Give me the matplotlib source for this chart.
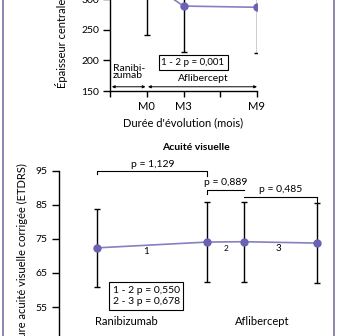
import matplotlib
matplotlib.use("Agg")
import matplotlib.pyplot as plt
from matplotlib.lines import Line2D

plt.rcParams["font.family"] = ["Lato", "DejaVu Sans"]
plt.rcParams["font.size"] = 7

# ── data ──────────────────────────────────────────────────────────────────────
# top panel: central thickness
thk_months = [0, 3, 9]
thk_mean   = [330, 289, 287]
thk_sd     = [88, 75, 75]
thk_ticks  = [-3, 0, 3, 6, 9]
thk_labels = ["", "M0", "M3", "", "M9"]
thk_yticks = [150, 200, 250, 300, 350]

# bottom panel: visual acuity
va_x     = [-9, 0, 3, 9]
va_mean  = [72.4, 74.1, 74.2, 73.8]
va_sd    = [11.4, 11.8, 11.8, 11.7]
va_ticks = [55, 65, 75, 85, 95]

PURPLE = "#6a62b2"
LINE   = "#8580c0"
FRAME  = "#7e6f9e"

fig = plt.figure(figsize=(3.39, 3.36), dpi=100)

# ── top panel ─────────────────────────────────────────────────────────────────
ax1 = fig.add_axes([0.3245, 0.729, 0.4336, 0.455])
ax1.plot(thk_months, thk_mean, color=LINE, lw=1.2, zorder=2)
ax1.errorbar(thk_months, thk_mean, yerr=thk_sd, fmt="none", ecolor="black",
             elinewidth=1.0, capsize=2.5, capthick=1.0, zorder=1)
ax1.plot(thk_months, thk_mean, "o", color=PURPLE, ms=5, zorder=3)
ax1.set_xlim(-3, 9)
ax1.set_ylim(150, 400)
ax1.set_xticks(thk_ticks)
ax1.set_xticklabels(thk_labels, fontsize=8)
ax1.set_yticks(thk_yticks)
ax1.tick_params(axis="y", labelsize=7.5, length=5, width=1, pad=3)
ax1.tick_params(axis="x", length=4, width=1, pad=3)
for s in ["top", "right"]:
    ax1.spines[s].set_visible(False)
for s in ["left", "bottom"]:
    ax1.spines[s].set_linewidth(1)
ax1.set_xlabel("Durée d'évolution (mois)", fontsize=8, labelpad=4)

arrow = dict(arrowstyle="<|-|>", color="black", lw=0.7, mutation_scale=4,
             shrinkA=0, shrinkB=0)
ax1.annotate("", xy=(-2.85, 157), xytext=(-0.1, 157), arrowprops=arrow)
ax1.annotate("", xy=(0.1, 157), xytext=(9, 157), arrowprops=arrow)
ax1.text(-2.75, 181, "Ranibi-\nzumab", ha="left", va="center", fontsize=7.5,
         linespacing=0.8)
ax1.text(4.6, 171, "Aflibercept", ha="center", va="center", fontsize=7.5)
ax1.text(3.78, 197, "1 - 2 p = 0,001", ha="center", va="center", fontsize=7,
         bbox=dict(boxstyle="square,pad=0.3", fc="white", ec="black", lw=0.8))

fig.text(62 / 339, 1 - 88 / 336, "Épaisseur centrale (µm)", rotation=90,
         ha="center", va="bottom", fontsize=8)

# ── bottom panel ──────────────────────────────────────────────────────────────
ax2 = fig.add_axes([0.174, -0.0149, 0.808, 0.506])
ax2.plot(va_x, va_mean, color=LINE, lw=1.2, zorder=2)
ax2.errorbar(va_x, va_mean, yerr=va_sd, fmt="none", ecolor="black",
             elinewidth=1.0, capsize=2.5, capthick=1.0, zorder=1)
ax2.plot(va_x, va_mean, "o", color=PURPLE, ms=5, zorder=3)
ax2.set_xlim(-12.15, 10.3)
ax2.set_ylim(45, 95)
ax2.set_yticks(va_ticks)
ax2.set_xticks([])
ax2.tick_params(axis="y", labelsize=7.5, length=5, width=1, pad=3)
for s in ["top", "right", "bottom"]:
    ax2.spines[s].set_visible(False)
ax2.spines["left"].set_linewidth(1)
ax2.set_title("Acuité visuelle", fontsize=7.5, fontweight="bold", pad=15)

def bracket(x0, x1, y, drop0, drop1, label, ty):
    ax2.plot([x0, x0, x1, x1], [y - drop0, y, y, y - drop1], color="black",
             lw=0.8, clip_on=False)
    ax2.text((x0 + x1) / 2, ty, label, ha="center", va="center", fontsize=7.5,
             clip_on=False)

bracket(-9, 0, 95, 1.0, 1.5, "p = 1,129", 96.9)
bracket(0, 3, 89.4, 1.2, 0.0, "p = 0,889", 91.5)
bracket(3, 9, 87.4, 0.0, 1.8, "p = 0,485", 89.6)

ax2.text(-5.0, 71.2, "1", ha="center", va="center", fontsize=7)
ax2.text(1.54, 72.1, "2", ha="center", va="center", fontsize=6)
ax2.text(5.8, 72.1, "3", ha="center", va="center", fontsize=7)
ax2.text(-5.0, 58.2, "1 - 2 p = 0,550\n2 - 3 p = 0,678", ha="center",
         va="center", fontsize=7.5, linespacing=1.3,
         bbox=dict(boxstyle="square,pad=0.35", fc="white", ec="black", lw=0.8))
ax2.text(-6.65, 50.6, "Ranibizumab", ha="center", va="center", fontsize=8)
ax2.text(4.5, 50.6, "Aflibercept", ha="center", va="center", fontsize=8)

fig.text(22 / 339, 1 - 163 / 336, "Meilleure acuité visuelle corrigée (ETDRS)",
         rotation=90, ha="center", va="top", fontsize=8)

# outer frame
fig.add_artist(Line2D([2.5 / 339] * 2, [0, 1], color=FRAME, lw=1.2))
fig.add_artist(Line2D([333.5 / 339] * 2, [0, 1], color=FRAME, lw=1.2))

fig.savefig("out.png", dpi=100)
